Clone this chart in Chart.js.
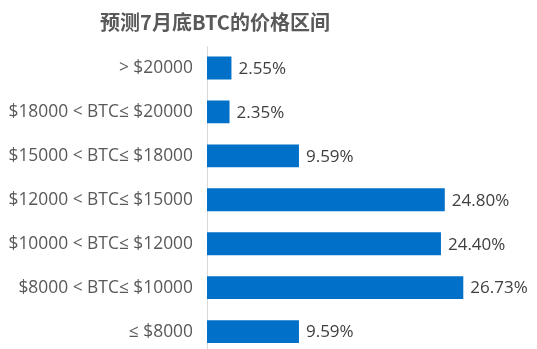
<!DOCTYPE html>
<html>
<head>
<meta charset="utf-8">
<script src="https://cdn.jsdelivr.net/npm/chart.js@4/dist/chart.umd.min.js"></script>
<style>
html,body{margin:0;padding:0;background:#fff;overflow:hidden;width:537px;height:349px;}
#wrap{position:relative;width:537px;height:378px;}
#title{position:absolute;left:0;width:430px;top:7px;text-align:center;font-family:"Noto Sans CJK SC","Noto Sans",sans-serif;font-weight:bold;font-size:20px;color:#595959;line-height:30px;}
canvas{position:absolute;left:0;top:0;}
</style>
</head>
<body>
<div id="wrap">
<canvas id="c" width="537" height="378"></canvas>
<div id="title">预测7月底BTC的价格区间</div>
</div>
<script>
const categories = ["> $20000", "$18000 < BTC≤ $20000", "$15000 < BTC≤ $18000", "$12000 < BTC≤ $15000", "$10000 < BTC≤ $12000", "$8000 < BTC≤ $10000", "≤ $8000"];
const values = [2.55, 2.35, 9.59, 24.80, 24.40, 26.73, 9.59];
const valueLabels = ["2.55%", "2.35%", "9.59%", "24.80%", "24.40%", "26.73%", "9.59%"];

const labelPlugin = {
  id: 'valueLabels',
  afterDatasetsDraw(chart) {
    const ctx = chart.ctx;
    const meta = chart.getDatasetMeta(0);
    ctx.save();
    ctx.font = '17px "Open Sans", sans-serif';
    ctx.fillStyle = '#404040';
    ctx.textAlign = 'left';
    ctx.textBaseline = 'middle';
    meta.data.forEach((bar, i) => {
      ctx.fillText(valueLabels[i], bar.x + 7, bar.y + 1);
    });
    ctx.restore();
  }
};

new Chart(document.getElementById('c'), {
  type: 'bar',
  data: {
    labels: categories,
    datasets: [{
      data: values,
      backgroundColor: '#0070C8',
      borderWidth: 0,
      barPercentage: 0.52,
      categoryPercentage: 1
    }]
  },
  options: {
    indexAxis: 'y',
    responsive: false,
    animation: false,
    devicePixelRatio: 1,
    layout: { padding: { top: 46, bottom: 0, left: 0, right: 4 } },
    plugins: { legend: { display: false }, tooltip: { enabled: false }, title: { display: false } },
    scales: {
      x: { display: false, min: 0, max: 34 },
      y: {
        afterFit(axis) { axis.width = 207; },
        grid: { display: false, drawTicks: false },
        border: { display: true, color: '#d9d9d9', width: 1 },
        ticks: {
          padding: 14,
          color: '#595959',
          font: { family: '"Open Sans", sans-serif', size: 17.4 }
        }
      }
    }
  },
  plugins: [labelPlugin]
});
</script>
</body>
</html>
